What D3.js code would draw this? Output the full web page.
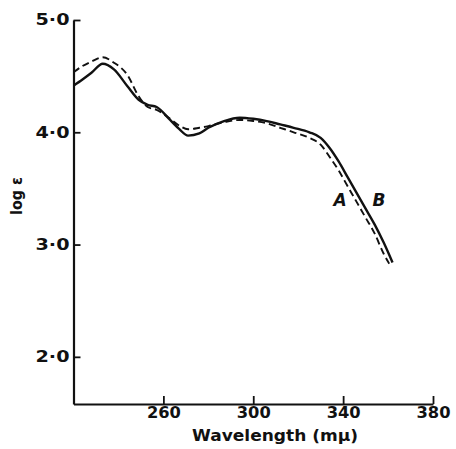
<!DOCTYPE html>
<html>
<head>
<meta charset="utf-8">
<script src="https://cdn.jsdelivr.net/npm/d3@7"></script>
<style>
  body { margin: 0; background: #fff; }
  svg { display: block; }
  text { font-family: "DejaVu Sans", sans-serif; fill: #111; }
</style>
</head>
<body>
<svg id="chart" width="456" height="449"></svg>
<script>
// curve B (solid)
const wavelengthB = [220, 224, 228, 233, 238, 244, 249, 253, 257, 263, 267, 271, 276, 280, 287, 294, 300, 306, 312, 318, 325, 330, 334, 338, 342, 346, 350, 354, 358, 362];
const logEpsB     = [4.415, 4.47, 4.53, 4.61, 4.56, 4.41, 4.29, 4.245, 4.225, 4.11, 4.03, 3.97, 3.99, 4.04, 4.10, 4.13, 4.12, 4.10, 4.07, 4.04, 4.00, 3.95, 3.86, 3.74, 3.60, 3.46, 3.32, 3.18, 3.02, 2.84];

// curve A (dashed)
const wavelengthA = [220, 224, 228, 233, 238, 244, 249, 253, 257, 263, 267, 271, 276, 280, 287, 294, 300, 306, 312, 318, 325, 330, 334, 338, 342, 346, 350, 354, 358, 360.5];
const logEpsA     = [4.534, 4.59, 4.63, 4.668, 4.62, 4.51, 4.32, 4.225, 4.20, 4.12, 4.06, 4.027, 4.04, 4.055, 4.09, 4.11, 4.10, 4.08, 4.04, 4.00, 3.95, 3.89, 3.78, 3.66, 3.52, 3.38, 3.24, 3.10, 2.92, 2.83];

const xTicks = [260, 300, 340, 380];
const yTicks = [2, 3, 4, 5];

const svg = d3.select('#chart');

const x = d3.scaleLinear().domain([220, 380]).range([73.5, 433]);
const y = d3.scaleLinear().domain([1.58, 5]).range([404, 20]);

const fmtY = d => d + '·0';

const yAxis = svg.append('g')
  .attr('transform', `translate(${x(220)},0)`)
  .call(d3.axisLeft(y).tickValues(yTicks).tickSizeInner(-7).tickSizeOuter(0).tickPadding(4).tickFormat(fmtY));

const xAxis = svg.append('g')
  .attr('transform', `translate(0,${y(1.58)})`)
  .call(d3.axisBottom(x).tickValues(xTicks).tickSizeInner(-8).tickSizeOuter(0).tickPadding(3).tickFormat(d3.format('d')));

[yAxis, xAxis].forEach(g => {
  g.select('.domain').attr('stroke', '#111').attr('stroke-width', 2.2);
  g.selectAll('.tick line').attr('stroke', '#111').attr('stroke-width', 1.8);
  g.selectAll('.tick text')
    .style('font-family', '"DejaVu Sans", sans-serif')
    .style('font-size', '15px')
    .style('font-weight', '600')
    .attr('fill', '#111')
    .attr('textLength', 34)
    .attr('lengthAdjust', 'spacingAndGlyphs');
});

const line = d3.line()
  .x(d => x(d[0]))
  .y(d => y(d[1]))
  .curve(d3.curveMonotoneX);

svg.append('path')
  .datum(d3.zip(wavelengthA, logEpsA))
  .attr('d', line)
  .attr('fill', 'none')
  .attr('stroke', '#111')
  .attr('stroke-width', 1.9)
  .attr('stroke-dasharray', '7,4');

svg.append('path')
  .datum(d3.zip(wavelengthB, logEpsB))
  .attr('d', line)
  .attr('fill', 'none')
  .attr('stroke', '#111')
  .attr('stroke-width', 2.4);

// curve labels
svg.append('text')
  .attr('x', 340).attr('y', 206)
  .attr('text-anchor', 'middle')
  .style('font-size', '17px').style('font-style', 'italic').style('font-weight', '600')
  .text('A');

svg.append('text')
  .attr('x', 379).attr('y', 206)
  .attr('text-anchor', 'middle')
  .style('font-size', '17px').style('font-style', 'italic').style('font-weight', '600')
  .text('B');

// axis titles
svg.append('text')
  .attr('x', 275).attr('y', 441)
  .attr('text-anchor', 'middle')
  .style('font-size', '15px').style('font-weight', 'bold')
  .attr('textLength', 166)
  .attr('lengthAdjust', 'spacingAndGlyphs')
  .text('Wavelength  (mμ)');

svg.append('text')
  .attr('transform', 'translate(22,196) rotate(-90)')
  .attr('text-anchor', 'middle')
  .style('font-size', '15px').style('font-weight', '600')
  .attr('textLength', 38)
  .attr('lengthAdjust', 'spacingAndGlyphs')
  .text('log ε');
</script>
</body>
</html>
